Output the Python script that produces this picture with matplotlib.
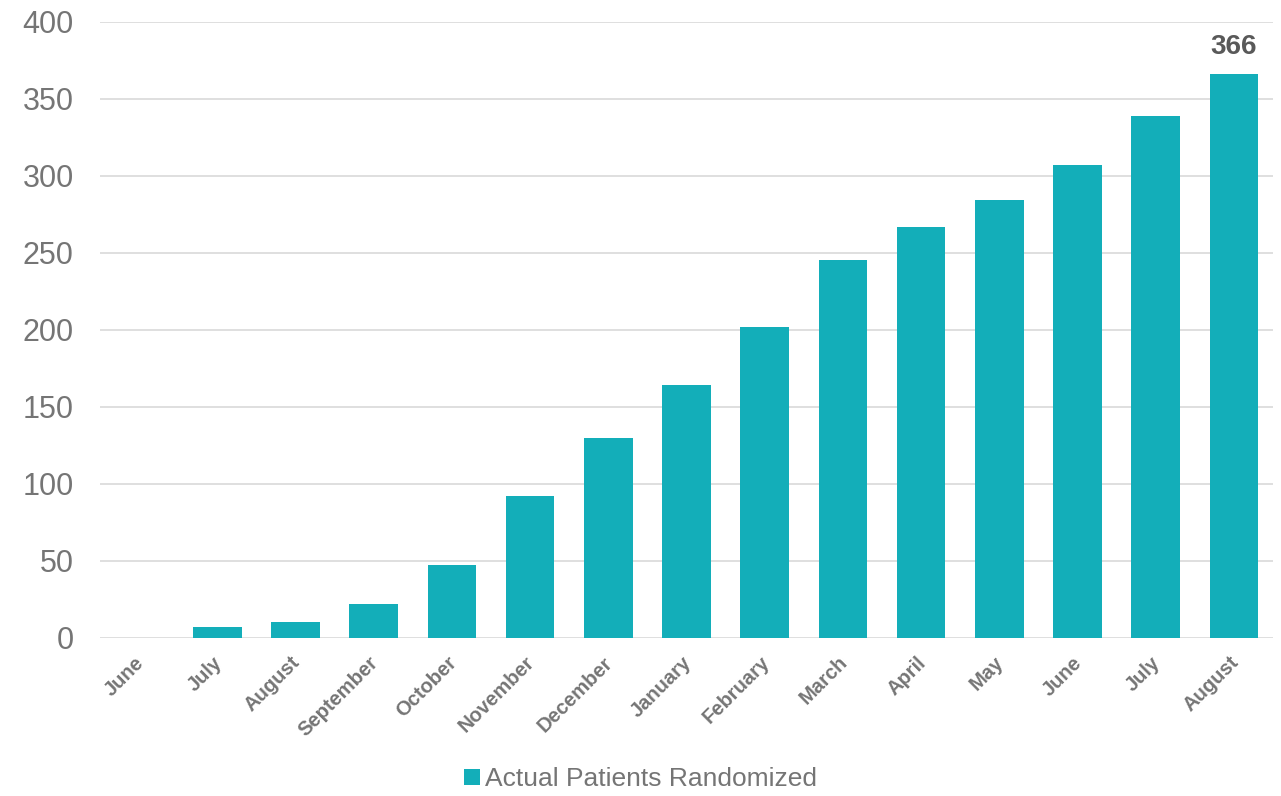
import matplotlib.pyplot as plt
import matplotlib.transforms as mtransforms

plt.rcParams["font.family"] = ["Liberation Sans", "DejaVu Sans"]

months = ["June", "July", "August", "September", "October", "November", "December",
          "January", "February", "March", "April", "May", "June", "July", "August"]
patients = [0, 7, 10, 22, 47, 92, 130, 164, 202, 245, 267, 284, 307, 339, 366]

W, H = 1281, 796
fig = plt.figure(figsize=(W / 100, H / 100), dpi=100)
ax = fig.add_axes([100 / W, (H - 637.7) / H, 1173 / W, 616 / H])

x = list(range(len(months)))
ax.bar(x, patients, width=0.62, color="#13AEB9", label="Actual Patients Randomized", zorder=3)
ax.set_xlim(-0.5, len(months) - 0.5)
ax.set_ylim(0, 400)
ax.set_yticks(range(0, 401, 50))
ax.grid(axis="y", color="#D9D9D9", linewidth=1.2, zorder=0)
ax.set_axisbelow(True)

for s in ax.spines.values():
    s.set_visible(False)
ax.tick_params(axis="both", length=0)
ax.tick_params(axis="y", labelsize=22, labelcolor="#757575", pad=19)
ax.set_xticks(x)
ax.set_xticklabels(months, rotation=45, ha="right", rotation_mode="anchor",
                   fontsize=14.5, fontweight="bold", color="#757575")
ax.tick_params(axis="x", pad=11)
shift = mtransforms.ScaledTranslation(-5 / 100, 0, fig.dpi_scale_trans)
for lbl in ax.get_xticklabels():
    lbl.set_transform(lbl.get_transform() + shift)

ax.text(x[-1], patients[-1] + 9, str(patients[-1]), ha="center", va="bottom",
        fontsize=20, fontweight="bold", color="#595959")

fig.legend(loc="lower center", bbox_to_anchor=(0.5, -0.024), frameon=False,
           fontsize=19, labelcolor="#757575", handlelength=0.6, handleheight=0.6,
           handletextpad=0.2)

plt.savefig("out.png", dpi=100)
